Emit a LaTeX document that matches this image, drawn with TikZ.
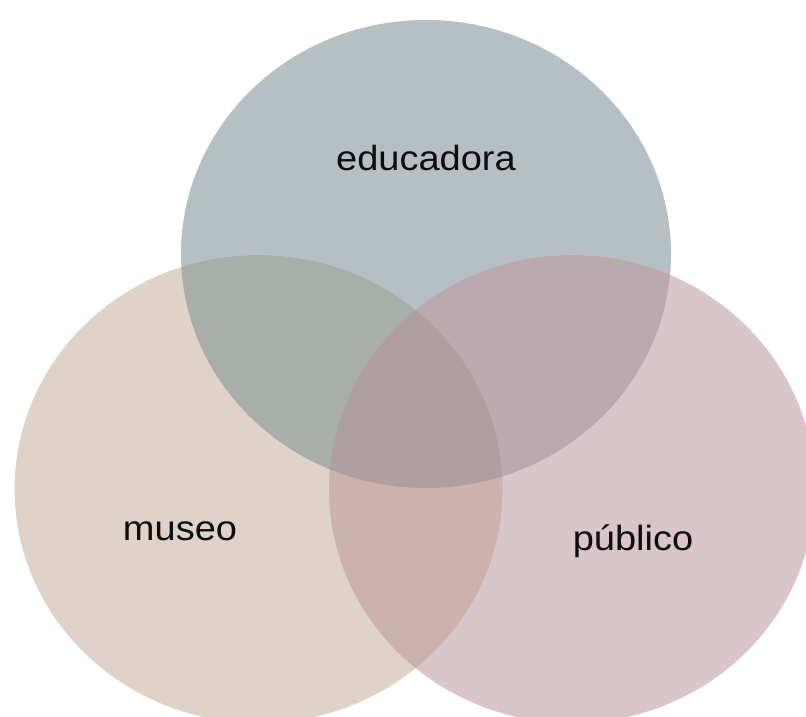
\documentclass[tikz,border=0pt]{standalone}
\usepackage{fontspec}
\usepackage{graphicx}
\setmainfont{Liberation Sans}
\definecolor{cT}{HTML}{B6C0C2}
\definecolor{cL}{HTML}{DED3C6}
\definecolor{cR}{HTML}{D9C6CA}
\definecolor{cTL}{HTML}{A8AEAA}
\definecolor{cTR}{HTML}{BAAAAF}
\definecolor{cLR}{HTML}{CDB1AD}
\definecolor{cTLR}{HTML}{B09FA0}
\tikzset{lbl/.style={anchor=base,inner sep=0pt,font=\fontsize{38}{42}\selectfont,text=black!95}}
\newcommand{\eT}{(426,254) ellipse [x radius=245,y radius=234]}
\newcommand{\eL}{(258.6,489) ellipse [x radius=244,y radius=234]}
\newcommand{\eR}{(572,489) ellipse [x radius=243,y radius=234]}
\begin{document}
\begin{tikzpicture}[x=1pt,y=-1pt]
\useasboundingbox (0,0) rectangle (806,717);
\fill[cT] \eT;
\fill[cL] \eL;
\fill[cR] \eR;
\begin{scope}
\clip \eT; \fill[cTL] \eL;
\end{scope}
\begin{scope}
\clip \eT; \fill[cTR] \eR;
\end{scope}
\begin{scope}
\clip \eL; \fill[cLR] \eR;
\end{scope}
\begin{scope}
\clip \eT; \clip \eL; \fill[cTLR] \eR;
\end{scope}
\node[lbl] (edu) at (426,170.7) {\scalebox{1}[0.92]{educadora}};
\node[lbl] (mus) at (180,540) {\scalebox{1}[0.92]{museo}};
\node[lbl] (pub) at (633,550) {\scalebox{1}[0.92]{público}};
\end{tikzpicture}
\end{document}
